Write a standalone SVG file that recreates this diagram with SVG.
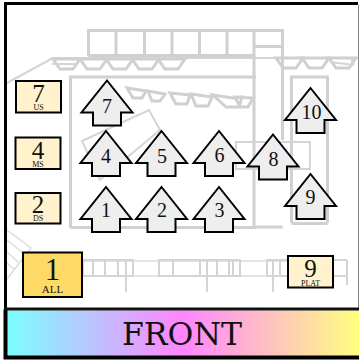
<svg xmlns="http://www.w3.org/2000/svg" width="359" height="362" viewBox="0 0 359 362">
<style>
.g{fill:none;stroke:#d0d0d0;stroke-width:3}
.t{fill:none;stroke:#d4d4d4;stroke-width:2}
.h{fill:none;stroke:#dcdcdc;stroke-width:1.5}
.a{fill:#eeeeee;stroke:#000;stroke-width:2;stroke-linejoin:miter}
.b{fill:#fff2cc;stroke:#000;stroke-width:2}
text{font-family:"Liberation Serif","DejaVu Serif",serif;text-anchor:middle;fill:#111}
.n{font-size:20px}
.m{font-size:25px}
.s{font-size:8px}
</style>
<defs>
<linearGradient id="rb" x1="0" x2="1" y1="0" y2="0">
<stop offset="0" stop-color="#7affff"/><stop offset="0.5" stop-color="#ff85ff"/><stop offset="1" stop-color="#ffff7f"/>
</linearGradient>
<path id="ar" d="M0 0L25.500 32H14V45H-14V32H-25.500Z"/>
<path id="tr" d="M0 0H27L20 10H7Z"/>
</defs>
<rect width="359" height="362" fill="#fff"/>
<g id="plan">
<path class="g" d="M88.500 56V30.500H282.500V140M88.500 55.500H254V227H282.500M116 31V55M144.500 31V55M172 31V55M199.500 31V55M227 31V55M254 31V55M254 46.500H282"/>
<path class="g" d="M70.500 228V77H256M71 227.500H256M291.500 223V77H327.500V223M291.500 223.500H327.500"/>
<path class="t" d="M7 83L52 58.500M52 58H285"/>
<g class="g"><use href="#tr" x="53" y="59"/><use href="#tr" x="80" y="59"/><use href="#tr" x="106" y="59"/><use href="#tr" x="132" y="59"/><use href="#tr" x="158" y="59"/><use href="#tr" x="276" y="58"/><use href="#tr" x="302" y="58"/><use href="#tr" x="329" y="58"/></g>
<path class="t" d="M52 64H76M330 62L354 65M352 58V66"/>
<path class="g" d="M127 88L146 91L142 98H133ZM148 91L165 94L160 101H152ZM170 93L190 95L187 104H176ZM191 94L212 97L208 106H196ZM213 95L233 98L242 97L239 107H226ZM235 97L253 98L248 107H240Z"/>
<path class="t" d="M82 141L149 110L160 130L100 180Z M236 142H310V169H236Z"/>
<path class="h" d="M7 230L31 248L7 279M7 240L24 254M7 252L18 262M7 263L15 270"/>
<path class="h" d="M82 261H332M82 276H332"/>
<path class="t" d="M83 260V276H133V260ZM93 260V276M105 260V276M118 260V276M126 260V292M159 260V276H173V260ZM173 260V276H200V260ZM200 260V276H240V260ZM207 260V292M217 260V276M229 260V276M233 260V276M267 260V276H290V260ZM273 260V292M280 260V276M333 260V276M347 260V276M347 260V285"/>
<path class="t" d="M333 260H347M333 276H347"/>
</g>
<g id="frame">
<rect x="6.500" y="3.500" width="351" height="306" fill="none" stroke="#000" stroke-width="0"/>
<path d="M5.500 309V3.500H358" fill="none" stroke="#000" stroke-width="3"/>
<path d="M358.500 5V309" stroke="#888" stroke-width="1" fill="none"/>
<rect x="6" y="310.500" width="353" height="46" fill="url(#rb)"/>
<path d="M5.500 309.500V357.500H359" fill="none" stroke="#000" stroke-width="4"/>
<path d="M4 309H359" stroke="#111" stroke-width="3" fill="none"/>
<text x="182" y="345" font-size="31" style="font-family:'DejaVu Serif','Liberation Serif',serif" textLength="120" lengthAdjust="spacingAndGlyphs">FRONT</text>
</g>
<g id="arrow-7"><use href="#ar" x="107" y="80.500" class="a"/><text class="n" x="107" y="113">7</text></g>
<g id="arrow-4"><use href="#ar" x="106" y="131" class="a"/><text class="n" x="106" y="163">4</text></g>
<g id="arrow-5"><use href="#ar" x="161.500" y="131" class="a"/><text class="n" x="162" y="163">5</text></g>
<g id="arrow-6"><use href="#ar" x="219" y="131" class="a"/><text class="n" x="219.500" y="162">6</text></g>
<g id="arrow-8"><use href="#ar" x="273" y="134.500" class="a"/><text class="n" x="273.500" y="166">8</text></g>
<g id="arrow-10"><use href="#ar" x="310.500" y="88" class="a"/><text class="n" x="311.500" y="119">10</text></g>
<g id="arrow-9"><use href="#ar" x="310.500" y="174" class="a"/><text class="n" x="310.500" y="204">9</text></g>
<g id="arrow-1"><use href="#ar" x="106" y="187" class="a"/><text class="n" x="106" y="217">1</text></g>
<g id="arrow-2"><use href="#ar" x="161.500" y="187" class="a"/><text class="n" x="162" y="217">2</text></g>
<g id="arrow-3"><use href="#ar" x="219" y="187" class="a"/><text class="n" x="219.500" y="217">3</text></g>
<g id="btn-7"><rect class="b" x="16" y="81" width="45" height="31.500"/><text class="m" x="38.500" y="102">7</text><text class="s" x="38.500" y="110">US</text></g>
<g id="btn-4"><rect class="b" x="15.500" y="137.500" width="45" height="31.500"/><text class="m" x="38" y="159">4</text><text class="s" x="38" y="167">MS</text></g>
<g id="btn-2"><rect class="b" x="15.500" y="193" width="45" height="30.500"/><text class="m" x="38" y="213">2</text><text class="s" x="38" y="221">DS</text></g>
<g id="btn-1"><rect x="23" y="252.500" width="59" height="44.500" fill="#ffd966" stroke="#000" stroke-width="2"/><text x="52.500" y="280" font-size="31">1</text><text x="52.500" y="293" font-size="11">ALL</text></g>
<g id="btn-9"><rect class="b" x="288" y="256" width="45" height="31.500"/><text class="m" x="310.500" y="277">9</text><text class="s" x="310.500" y="286">PLAT</text></g>
</svg>
